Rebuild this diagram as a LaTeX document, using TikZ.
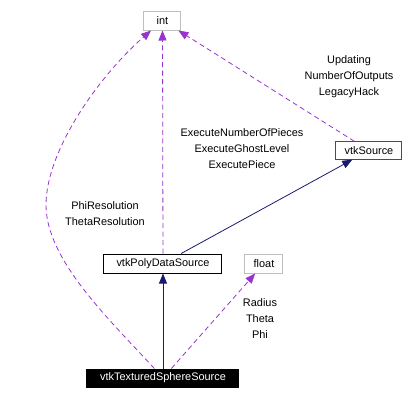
\documentclass[tikz,border=0pt]{standalone}
\usepackage{fontspec}
\setmainfont{Liberation Sans}
\usepackage{tikz}
\usetikzlibrary{arrows.meta}

\definecolor{usecol}{RGB}{154,50,205}
\definecolor{inhcol}{RGB}{25,25,112}
\definecolor{boxgray}{RGB}{191,191,191}

\begin{document}
\begin{tikzpicture}[x=0.75pt,y=0.75pt,yscale=-1,xscale=1,
  font=\fontsize{8.2}{12}\selectfont,
  cls/.style={draw, line width=0.75pt, inner sep=0pt, minimum height=14.25pt},
  usage/.style={color=usecol, line width=0.6pt, dash pattern=on 3.75pt off 2.6pt, -{Triangle[length=7.5pt,width=6pt]}},
  inherit/.style={color=inhcol, line width=0.6pt, -{Triangle[length=7.5pt,width=6pt]}},
  lbl/.style={align=center, inner sep=0pt}]
\useasboundingbox (0,0) rectangle (412,400);

%classes
\node [cls, draw=boxgray, minimum width=27.75pt] (int) at (162.5,20.5) {int};
\node [cls, draw=red, minimum width=49.5pt, minimum height=13pt] (src) at (369,150.5) {vtkSource};
\node [cls, draw=black, minimum width=88.5pt] (pds) at (163,263.5) {vtkPolyDataSource};
\node [cls, draw=boxgray, minimum width=28.5pt] (flt) at (264,263.5) {float};
\node [cls, draw=black, fill=black, text=white, minimum width=114pt, minimum height=13.5pt] (tss) at (163,378) {vtkTexturedSphereSource};

%inheritance
\draw [inherit] (tss) -- (pds);
\draw [inherit] (pds) -- (src);

%usage
\draw [usage] (tss) -- (flt);
\draw [usage] (pds) -- (int);
\draw [usage] (src) -- (int);
\draw [usage] (tss) .. controls (110,320) and (46,260) .. (46,205) .. controls (46,150) and (100,75) .. (int);

%labels
\node [lbl] (lsrc) at (349,77) {Updating\\NumberOfOutputs\\LegacyHack};
\node [lbl] (lpds) at (242,149) {ExecuteNumberOfPieces\\ExecuteGhostLevel\\ExecutePiece};
\node [lbl] (ltss) at (105,213.5) {PhiResolution\\ThetaResolution};
\node [lbl] (lflt) at (260,319) {Radius\\Theta\\Phi};
\end{tikzpicture}
\end{document}
